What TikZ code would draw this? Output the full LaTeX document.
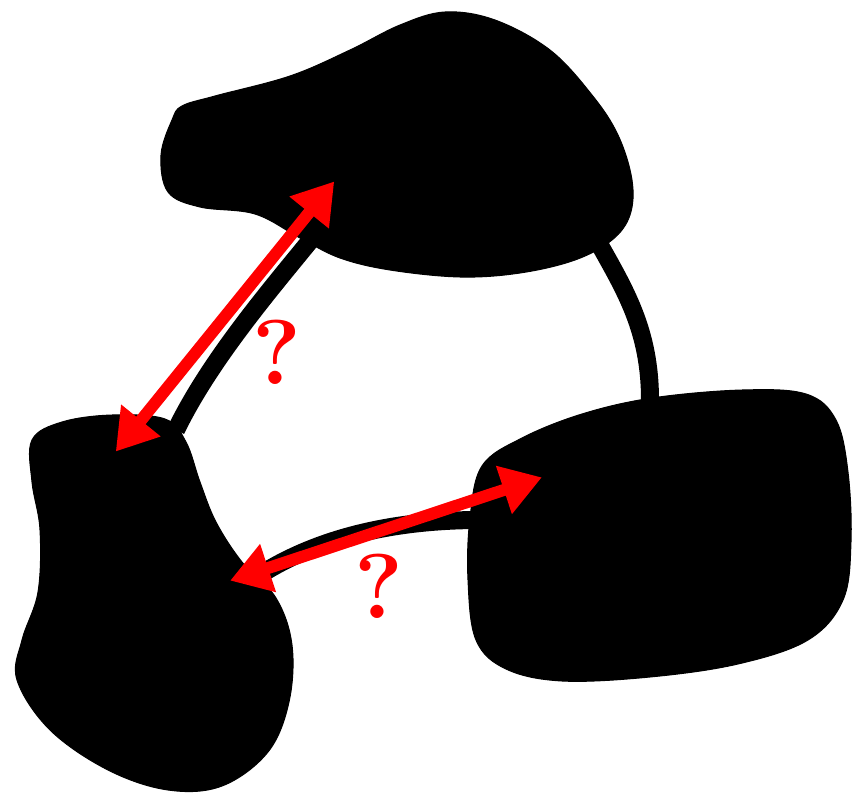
\documentclass[tikz,border=0pt]{standalone}
\usetikzlibrary{arrows.meta}
\tikzset{blob/.style={fill=black,draw=black,line width=1pt},
 link/.style={draw=black,line width=18pt},
 ask/.style={<->,>={Triangle[length=40pt,width=48pt]},draw=red,line width=12pt,shorten <=-2pt,shorten >=-2pt},
 qm/.style={text=red,font=\fontsize{92}{92}\selectfont\bfseries}}
\begin{document}
\begin{tikzpicture}[x=1pt,y=-1pt]
\useasboundingbox (0,0) rectangle (855,795);
% links
\draw[link](597,240)..controls(625,290)and(650,330)..(650,400);
\draw[link](314,236)..controls(270,290)and(210,360)..(176,430);
\draw[link](255,578)..controls(320,535)and(400,520)..(480,520);
% blobs
\path[blob] plot[smooth cycle,tension=.6] coordinates{(182,106)(215,96)(290,76)(350,50)(400,25)(445,12)(495,20)(550,50)(592,95)(618,135)(632,180)(630,215)(612,240)(575,260)(520,273)(460,277)(390,270)(340,258)(300,238)(255,214)(200,207)(168,192)(161,155)(172,120)};
\path[blob] plot[smooth cycle,tension=.6] coordinates{(32,440)(62,422)(112,415)(165,419)(186,442)(200,482)(216,522)(242,562)(276,598)(292,645)(289,702)(268,752)(222,786)(168,790)(108,770)(50,730)(17,680)(22,640)(38,592)(40,530)(32,482)};
\path[blob] plot[smooth cycle,tension=.6] coordinates{(482,466)(522,438)(582,414)(652,398)(742,390)(806,394)(836,420)(848,472)(851,542)(843,600)(808,640)(738,664)(650,677)(562,681)(506,669)(476,640)(468,580)(470,518)};
% questions
\coordinate(a1) at (333,183); \coordinate(a2) at (117,450);
\coordinate(b1) at (232,580); \coordinate(b2) at (540,478);
\draw[ask](a2)--(a1);
\draw[ask](b1)--(b2);
\node[qm](q1) at (277,352){?};
\node[qm](q2) at (379,586){?};
\end{tikzpicture}
\end{document}
